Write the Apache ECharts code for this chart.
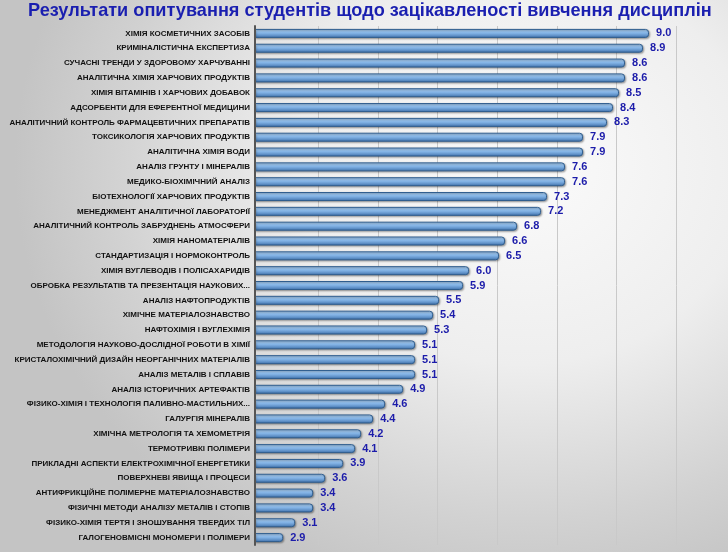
<!DOCTYPE html>
<html>
<head>
<meta charset="utf-8">
<script src="https://cdn.jsdelivr.net/npm/echarts@6/dist/echarts.min.js"></script>
<style>
  html, body { margin: 0; padding: 0; }
  body {
    width: 728px; height: 552px;
    background: radial-gradient(ellipse 70% 80% at 72% 30%, #fbfbfb 0%, #eeeeee 45%, #d2d2d2 80%, #c4c4c4 100%);
  }
  #container { width: 728px; height: 552px; }
</style>
</head>
<body>
<div id="container"></div>
<script>
// курси (зверху вниз) та середні оцінки зацікавленості
const chartTitle = 'Результати опитування студентів щодо зацікавленості вивчення дисциплін';
const courses = [
  'ХІМІЯ КОСМЕТИЧНИХ ЗАСОБІВ',
  'КРИМІНАЛІСТИЧНА ЕКСПЕРТИЗА',
  'СУЧАСНІ ТРЕНДИ У ЗДОРОВОМУ ХАРЧУВАННІ',
  'АНАЛІТИЧНА ХІМІЯ ХАРЧОВИХ ПРОДУКТІВ',
  'ХІМІЯ ВІТАМІНІВ І ХАРЧОВИХ ДОБАВОК',
  'АДСОРБЕНТИ ДЛЯ ЕФЕРЕНТНОЇ МЕДИЦИНИ',
  'АНАЛІТИЧНИЙ КОНТРОЛЬ ФАРМАЦЕВТИЧНИХ ПРЕПАРАТІВ',
  'ТОКСИКОЛОГІЯ ХАРЧОВИХ ПРОДУКТІВ',
  'АНАЛІТИЧНА ХІМІЯ ВОДИ',
  'АНАЛІЗ ГРУНТУ І МІНЕРАЛІВ',
  'МЕДИКО-БІОХІМІЧНИЙ АНАЛІЗ',
  'БІОТЕХНОЛОГІЇ ХАРЧОВИХ ПРОДУКТІВ',
  'МЕНЕДЖМЕНТ АНАЛІТИЧНОЇ ЛАБОРАТОРІЇ',
  'АНАЛІТИЧНИЙ КОНТРОЛЬ ЗАБРУДНЕНЬ АТМОСФЕРИ',
  'ХІМІЯ НАНОМАТЕРІАЛІВ',
  'СТАНДАРТИЗАЦІЯ І НОРМОКОНТРОЛЬ',
  'ХІМІЯ ВУГЛЕВОДІВ І ПОЛІСАХАРИДІВ',
  'ОБРОБКА РЕЗУЛЬТАТІВ ТА ПРЕЗЕНТАЦІЯ НАУКОВИХ...',
  'АНАЛІЗ НАФТОПРОДУКТІВ',
  'ХІМІЧНЕ МАТЕРІАЛОЗНАВСТВО',
  'НАФТОХІМІЯ І ВУГЛЕХІМІЯ',
  'МЕТОДОЛОГІЯ НАУКОВО-ДОСЛІДНОЇ РОБОТИ В ХІМІЇ',
  'КРИСТАЛОХІМІЧНИЙ ДИЗАЙН НЕОРГАНІЧНИХ МАТЕРІАЛІВ',
  'АНАЛІЗ МЕТАЛІВ І СПЛАВІВ',
  'АНАЛІЗ ІСТОРИЧНИХ АРТЕФАКТІВ',
  'ФІЗИКО-ХІМІЯ І ТЕХНОЛОГІЯ ПАЛИВНО-МАСТИЛЬНИХ...',
  'ГАЛУРГІЯ МІНЕРАЛІВ',
  'ХІМІЧНА МЕТРОЛОГІЯ ТА ХЕМОМЕТРІЯ',
  'ТЕРМОТРИВКІ ПОЛІМЕРИ',
  'ПРИКЛАДНІ АСПЕКТИ ЕЛЕКТРОХІМІЧНОЇ ЕНЕРГЕТИКИ',
  'ПОВЕРХНЕВІ ЯВИЩА І ПРОЦЕСИ',
  'АНТИФРИКЦІЙНЕ ПОЛІМЕРНЕ МАТЕРІАЛОЗНАВСТВО',
  'ФІЗИЧНІ МЕТОДИ АНАЛІЗУ МЕТАЛІВ І СТОПІВ',
  'ФІЗИКО-ХІМІЯ ТЕРТЯ І ЗНОШУВАННЯ ТВЕРДИХ ТІЛ',
  'ГАЛОГЕНОВМІСНІ МОНОМЕРИ І ПОЛІМЕРИ'
];
const scores = [
  9.0, 8.9, 8.6, 8.6, 8.5, 8.4, 8.3, 7.9, 7.9, 7.6,
  7.6, 7.3, 7.2, 6.8, 6.6, 6.5, 6.0, 5.9, 5.5, 5.4,
  5.3, 5.1, 5.1, 5.1, 4.9, 4.6, 4.4, 4.2, 4.1, 3.9,
  3.6, 3.4, 3.4, 3.1, 2.9
];
// вісь стовпців починається трохи лівіше за першу лінію сітки
const barAxisMin = 2.43;
const barAxisMax = 9.5;
const gridMin = 2.5;
const gridMax = 9.5;

const dom = document.getElementById('container');
const myChart = echarts.init(dom);
const option = {
  backgroundColor: 'transparent',
  // заголовок як графічний текст, трохи стиснутий по горизонталі (як Arial Narrow)
  graphic: [
    {
      type: 'text',
      x: 28,
      y: 1,
      scaleX: 0.955,
      style: {
        text: chartTitle,
        fontFamily: '"Liberation Sans", Arial, sans-serif',
        fontSize: 19,
        fontWeight: 'bold',
        fill: '#1a1fb0',
        textVerticalAlign: 'top',
      },
    },
  ],
  grid: [
    { left: 255, right: 49, top: 26, bottom: 7 },
    { left: 259, right: 52, top: 26, bottom: 7 },
  ],
  xAxis: [
    {
      type: 'value',
      gridIndex: 0,
      min: barAxisMin,
      max: barAxisMax,
      axisLabel: { show: false },
      axisTick: { show: false },
      axisLine: { show: false },
      splitLine: { show: false },
    },
    {
      type: 'value',
      gridIndex: 1,
      min: gridMin,
      max: gridMax,
      interval: 1,
      axisLabel: { show: false },
      axisTick: { show: false },
      axisLine: { show: false },
      splitLine: { showMinLine: false, lineStyle: { color: '#c9c9c9', width: 1 } },
    },
  ],
  yAxis: [
    {
      type: 'category',
      gridIndex: 0,
      data: courses,
      inverse: true,
      z: 3,
      axisTick: { show: false },
      axisLine: { lineStyle: { color: '#555', width: 2 } },
      axisLabel: {
        margin: 5,
        fontFamily: '"Liberation Sans", Arial, sans-serif',
        fontSize: 8,
        fontWeight: 'bold',
        color: '#111',
      },
    },
    {
      type: 'value',
      gridIndex: 1,
      show: false,
    },
  ],
  series: [
    {
      type: 'bar',
      xAxisIndex: 0,
      yAxisIndex: 0,
      data: scores,
      barWidth: 9,
      itemStyle: {
        color: new echarts.graphic.LinearGradient(0, 0, 0, 1, [
          { offset: 0, color: '#b4d6f6' },
          { offset: 0.45, color: '#86b6e8' },
          { offset: 1, color: '#3f72ad' },
        ]),
        borderColor: '#2f5d8e',
        borderWidth: 1,
        borderRadius: [0, 3, 3, 0],
        shadowColor: 'rgba(0,0,0,0.35)',
        shadowBlur: 2,
        shadowOffsetX: 1,
        shadowOffsetY: 1,
      },
      label: {
        show: true,
        position: 'right',
        distance: 7,
        formatter: (p) => p.value.toFixed(1),
        fontFamily: '"Liberation Sans", Arial, sans-serif',
        fontSize: 11,
        fontWeight: 'bold',
        color: '#1c1caa',
      },
    },
  ],
};
myChart.setOption(option, true);
</script>
</body>
</html>
